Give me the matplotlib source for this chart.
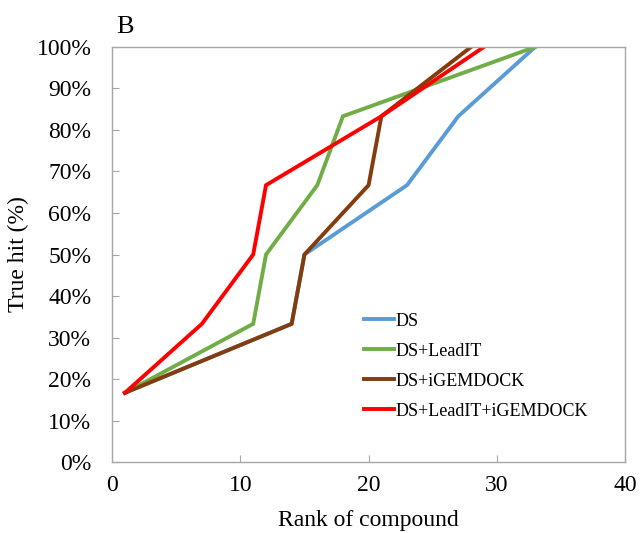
import matplotlib
matplotlib.use("Agg")
import matplotlib.pyplot as plt
from matplotlib.ticker import FuncFormatter

plt.rcParams['font.family'] = ['Liberation Serif', 'DejaVu Serif']

# rank of compound vs. true hit (%) for each screening strategy
ds_rank = [1, 14, 15, 23, 27, 33]
ds_hit = [16.7, 33.3, 50.0, 66.7, 83.3, 100.0]

leadit_rank = [1, 11, 12, 16, 18, 33]
leadit_hit = [16.7, 33.3, 50.0, 66.7, 83.3, 100.0]

igem_rank = [1, 14, 15, 20, 21, 28]
igem_hit = [16.7, 33.3, 50.0, 66.7, 83.3, 100.0]

all_rank = [1, 7, 11, 12, 21, 29]
all_hit = [16.7, 33.3, 50.0, 66.7, 83.3, 100.0]

labels = ['DS', 'DS+LeadIT', 'DS+iGEMDOCK', 'DS+LeadIT+iGEMDOCK']
colors = ['#5B9BD5', '#70AD47', '#843C0C', '#FF0000']

fig = plt.figure(figsize=(6.41, 5.33), dpi=100)
ax = fig.add_axes([0.175, 0.133, 0.800, 0.779])

series = [(ds_rank, ds_hit), (leadit_rank, leadit_hit),
          (igem_rank, igem_hit), (all_rank, all_hit)]
for (xs, ys), lab, col in zip(series, labels, colors):
    ax.plot(xs, ys, color=col, linewidth=2.8, label=lab,
            solid_joinstyle='miter')

ax.set_xlim(0, 40)
ax.set_ylim(0, 100)
ax.set_xticks(range(0, 41, 10))
ax.set_yticks(range(0, 101, 10))
ax.yaxis.set_major_formatter(FuncFormatter(lambda v, p: '%d%%' % v))

for sp in ax.spines.values():
    sp.set_color('#A6A6A6')
    sp.set_linewidth(1.0)
ax.tick_params(direction='in', length=5, color='#A6A6A6', labelsize=17)
ax.tick_params(axis='x', pad=9)
ax.tick_params(axis='y', pad=15)

ax.set_xlabel('Rank of compound', fontsize=17, va='top')
ax.xaxis.set_label_coords(0.5, -0.115)
ax.set_ylabel('True hit (%)', fontsize=17)
ax.yaxis.set_label_coords(-0.162, 0.5)

fig.text(0.181, 0.95, 'B', fontsize=19, ha='left', va='center')

ax.legend(loc='upper left', bbox_to_anchor=(0.466, 0.39), frameon=False,
          fontsize=13, handlelength=1.7, handletextpad=0.05,
          labelspacing=0.72, borderaxespad=0.3)

fig.savefig('out.png', dpi=100)
